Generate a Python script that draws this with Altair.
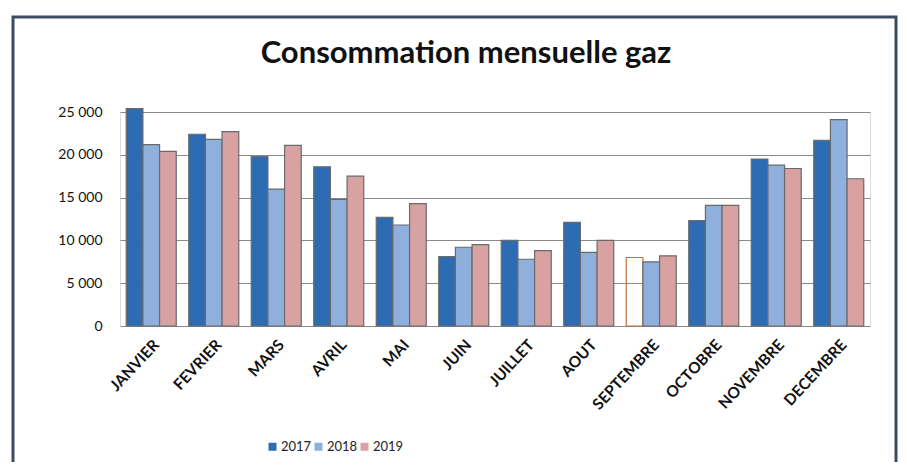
import altair as alt
import pandas as pd

months = ["JANVIER", "FEVRIER", "MARS", "AVRIL", "MAI", "JUIN", "JUILLET",
          "AOUT", "SEPTEMBRE", "OCTOBRE", "NOVEMBRE", "DECEMBRE"]
years = ["2017", "2018", "2019"]
v2017 = [25400, 22400, 19800, 18600, 12700, 8100, 10000, 12100, 8000, 12300, 19500, 21700]
v2018 = [21200, 21800, 16000, 14800, 11800, 9200, 7800, 8600, 7500, 14100, 18800, 24100]
v2019 = [20400, 22700, 21100, 17500, 14300, 9500, 8800, 10000, 8200, 14100, 18400, 17200]
colors = ["#2d6bb2", "#8fafdc", "#d9a2a2"]

rows = []
for y, vals in zip(years, [v2017, v2018, v2019]):
    for m, v in zip(months, vals):
        rows.append({"mois": m, "annee": y, "valeur": v})
df = pd.DataFrame(rows)

hollow = (alt.datum.mois == "SEPTEMBRE") & (alt.datum.annee == "2017")

bars = alt.Chart(df).mark_bar(strokeWidth=1.2).encode(
    x=alt.X("mois:N", sort=months, title=None,
            scale=alt.Scale(paddingInner=0.2, paddingOuter=0.1),
            axis=alt.Axis(labelAngle=-47, labelAlign="right", labelBaseline="top",
                          labelFontSize=15.5, labelFont="Lato", labelFontWeight="bold",
                          labelColor="#111", labelPadding=11, ticks=False,
                          domain=False, grid=False)),
    xOffset=alt.XOffset("annee:N", sort=years),
    y=alt.Y("valeur:Q", title=None,
            scale=alt.Scale(domain=[0, 25000], nice=False),
            axis=alt.Axis(values=[0, 5000, 10000, 15000, 20000, 25000],
                          labelExpr="replace(format(datum.value, ','), ',', ' ')",
                          labelFontSize=14, labelFont="Lato", labelColor="#111",
                          labelPadding=18, ticks=False, domain=False,
                          gridColor="#8a8a8a", gridWidth=1.2)),
    color=alt.Color("annee:N", sort=years,
                    scale=alt.Scale(domain=years, range=colors),
                    legend=alt.Legend(title=None, orient="none", direction="horizontal",
                                      legendX=146, legendY=328, symbolType="square",
                                      symbolSize=64, symbolStrokeWidth=0,
                                      labelFontSize=13, labelFont="Lato",
                                      labelColor="#222", labelOffset=2,
                                      columnPadding=0)),
    fillOpacity=alt.condition(hollow, alt.value(0), alt.value(1)),
    stroke=alt.condition(hollow, alt.value("#c0703a"), alt.value("#6a6a6a")),
)

frame = alt.Chart(pd.DataFrame({"a": [0]})).mark_rect(
    fill="transparent", stroke="#3b4c63", strokeWidth=3
).encode(
    x=alt.value(-107), x2=alt.value(776), y=alt.value(-95), y2=alt.value(380)
)

chart = alt.layer(frame, bars).properties(
    width=750, height=214,
    autosize=alt.AutoSizeParams(type="none"),
    padding={"left": 112, "top": 104, "right": 29, "bottom": 136},
    title=alt.TitleParams("Consommation mensuelle gaz", fontSize=31, font="Lato",
                          fontWeight="bold", color="#111", anchor="middle",
                          frame="group", dx=-29, offset=-54),
).configure_view(fill="#f8f8f8", stroke="#b5b5b5").configure(background="white")

chart.save("out.html", embed_options={"renderer": "svg", "actions": False})
